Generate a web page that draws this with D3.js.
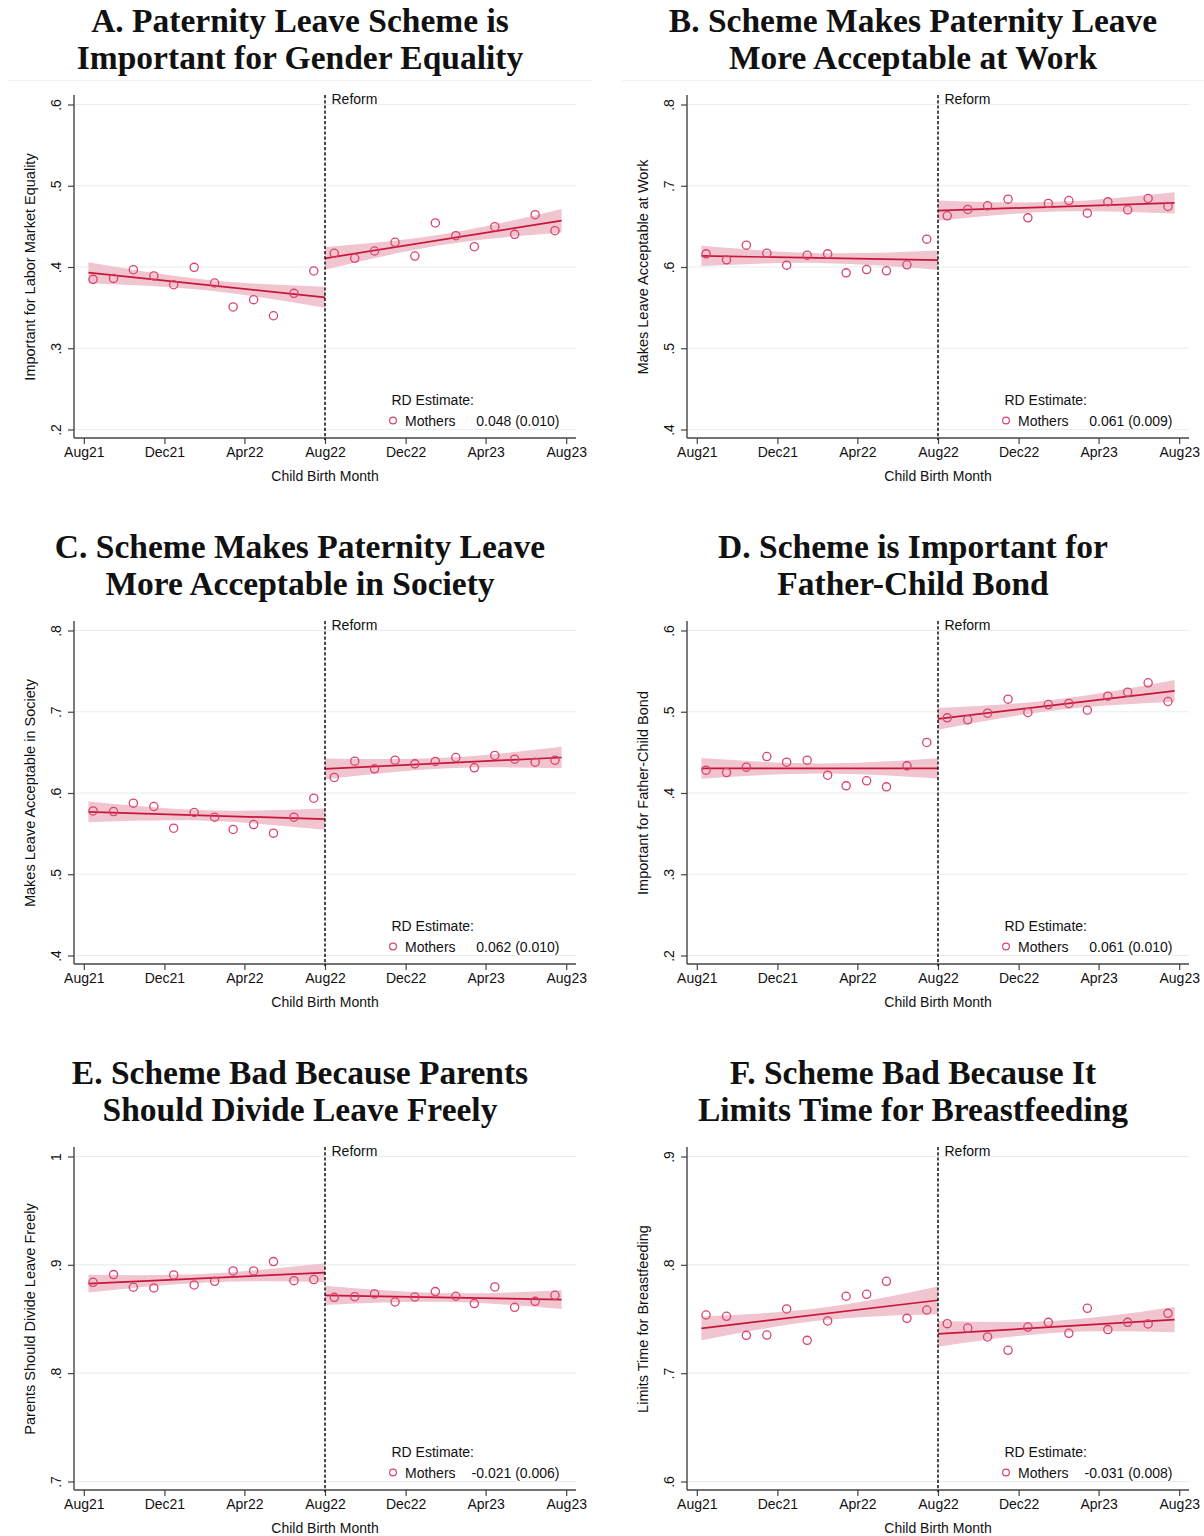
<!DOCTYPE html>
<html>
<head>
<meta charset="utf-8">
<script src="https://cdn.jsdelivr.net/npm/d3@7"></script>
<style>
  body { margin: 0; background: #fff; }
  svg { display: block; }
  .tick text { font-family: "Liberation Sans", Arial, sans-serif; font-size: 14px; fill: #111; }
</style>
</head>
<body>
<svg id="chart" width="1204" height="1536"></svg>
<script>
// Birth months (mid-month) of the monthly binned means
const pointMonths = [
  "2021-08-15","2021-09-15","2021-10-15","2021-11-15","2021-12-15","2022-01-15",
  "2022-02-15","2022-03-15","2022-04-15","2022-05-15","2022-06-15","2022-07-15",
  "2022-08-15","2022-09-15","2022-10-15","2022-11-15","2022-12-15","2023-01-15",
  "2023-02-15","2023-03-15","2023-04-15","2023-05-15","2023-06-15","2023-07-15"
];
const xTickDates = ["2021-08-01","2021-12-01","2022-04-01","2022-08-01","2022-12-01","2023-04-01","2023-08-01"];
const xTickLabels = ["Aug21","Dec21","Apr22","Aug22","Dec22","Apr23","Aug23"];
const xDomain = ["2021-08-01","2023-08-01"];
const reformDate = "2022-08-01";
// fitted-line support: start of pre period, reform, end of post period
const fitDates = ["2021-08-08","2022-08-01","2023-07-25"];

// Panel A
const titleA = ["A. Paternity Leave Scheme is", "Important for Gender Equality"];
const yTitleA = "Important for Labor Market Equality";
const yTicksA = [0.2, 0.3, 0.4, 0.5, 0.6];
const yTickLabelsA = [".2", ".3", ".4", ".5", ".6"];
const valuesA = [0.3848,0.3860,0.3967,0.3890,0.3782,0.3996,0.3803,0.3508,0.3598,0.3400,0.3676,0.3951,
                 0.4169,0.4107,0.4197,0.4304,0.4135,0.4542,0.4385,0.4250,0.4496,0.4402,0.4644,0.4447];
const fitA = [0.3930, 0.3627, 0.4570];          // pre start, pre end, post end
const rdA = 0.048;  const rdTextA = "0.048 (0.010)";
const ciA = [0.0129, 0.0065, 0.0129, 0.0140, 0.0065, 0.0144];

// Panel B
const titleB = ["B. Scheme Makes Paternity Leave", "More Acceptable at Work"];
const yTitleB = "Makes Leave Acceptable at Work";
const yTicksB = [0.4, 0.5, 0.6, 0.7, 0.8];
const yTickLabelsB = [".4", ".5", ".6", ".7", ".8"];
const valuesB = [0.6162,0.6088,0.6269,0.6170,0.6023,0.6146,0.6162,0.5928,0.5969,0.5953,0.6027,0.6343,
                 0.6630,0.6708,0.6753,0.6835,0.6605,0.6782,0.6818,0.6663,0.6802,0.6704,0.6843,0.6745];
const fitB = [0.6137, 0.6084, 0.6790];
const rdB = 0.061;  const rdTextB = "0.061 (0.009)";
const ciB = [0.0125, 0.0060, 0.0119, 0.0125, 0.0060, 0.0131];

// Panel C
const titleC = ["C. Scheme Makes Paternity Leave", "More Acceptable in Society"];
const yTitleC = "Makes Leave Acceptable in Society";
const yTicksC = [0.4, 0.5, 0.6, 0.7, 0.8];
const yTickLabelsC = [".4", ".5", ".6", ".7", ".8"];
const valuesC = [0.5780,0.5772,0.5875,0.5834,0.5567,0.5760,0.5703,0.5551,0.5612,0.5506,0.5703,0.5936,
                 0.6191,0.6392,0.6297,0.6404,0.6359,0.6388,0.6437,0.6310,0.6462,0.6416,0.6379,0.6404];
const fitC = [0.5768, 0.5678, 0.6437];
const rdC = 0.062;  const rdTextC = "0.062 (0.010)";
const ciC = [0.0128, 0.0065, 0.0131, 0.0128, 0.0065, 0.0133];

// Panel D
const titleD = ["D. Scheme is Important for", "Father-Child Bond"];
const yTitleD = "Important for Father-Child Bond";
const yTicksD = [0.2, 0.3, 0.4, 0.5, 0.6];
const yTickLabelsD = [".2", ".3", ".4", ".5", ".6"];
const valuesD = [0.4281,0.4252,0.4318,0.4449,0.4379,0.4404,0.4219,0.4088,0.4150,0.4076,0.4334,0.4622,
                 0.4925,0.4901,0.4982,0.5155,0.4991,0.5089,0.5102,0.5020,0.5192,0.5241,0.5356,0.5126];
const fitD = [0.4302, 0.4303, 0.5257];
const rdD = 0.061;  const rdTextD = "0.061 (0.010)";
const ciD = [0.0128, 0.0062, 0.0125, 0.0134, 0.0065, 0.0134];

// Panel E
const titleE = ["E. Scheme Bad Because Parents", "Should Divide Leave Freely"];
const yTitleE = "Parents Should Divide Leave Freely";
const yTicksE = [0.7, 0.8, 0.9, 1.0];
const yTickLabelsE = [".7", ".8", ".9", "1"];
const valuesE = [0.8839,0.8910,0.8793,0.8787,0.8907,0.8814,0.8848,0.8944,0.8944,0.9030,0.8854,0.8864,
                 0.8700,0.8706,0.8731,0.8657,0.8703,0.8753,0.8710,0.8642,0.8796,0.8608,0.8663,0.8719];
const fitE = [0.8827, 0.8928, 0.8679];
const rdE = -0.021; const rdTextE = "-0.021 (0.006)";
const ciE = [0.0082, 0.0040, 0.0086, 0.0088, 0.0040, 0.0086];

// Panel F
const titleF = ["F. Scheme Bad Because It", "Limits Time for Breastfeeding"];
const yTitleF = "Limits Time for Breastfeeding";
const yTicksF = [0.6, 0.7, 0.8, 0.9];
const yTickLabelsF = [".6", ".7", ".8", ".9"];
const valuesF = [0.7537,0.7525,0.7349,0.7352,0.7593,0.7303,0.7482,0.7710,0.7728,0.7848,0.7506,0.7583,
                 0.7457,0.7417,0.7334,0.7211,0.7426,0.7469,0.7368,0.7599,0.7402,0.7469,0.7454,0.7552];
const fitF = [0.7414, 0.7673, 0.7494];
const rdF = -0.031; const rdTextF = "-0.031 (0.008)";
const ciF = [0.0110, 0.0058, 0.0128, 0.0119, 0.0056, 0.0116];

const panels = [
  { title: titleA, yTitle: yTitleA, ticks: yTicksA, tickLabels: yTickLabelsA, values: valuesA, fit: fitA, rd: rdA, rdText: rdTextA, ci: ciA, col: 0, row: 0 },
  { title: titleB, yTitle: yTitleB, ticks: yTicksB, tickLabels: yTickLabelsB, values: valuesB, fit: fitB, rd: rdB, rdText: rdTextB, ci: ciB, col: 1, row: 0 },
  { title: titleC, yTitle: yTitleC, ticks: yTicksC, tickLabels: yTickLabelsC, values: valuesC, fit: fitC, rd: rdC, rdText: rdTextC, ci: ciC, col: 0, row: 1 },
  { title: titleD, yTitle: yTitleD, ticks: yTicksD, tickLabels: yTickLabelsD, values: valuesD, fit: fitD, rd: rdD, rdText: rdTextD, ci: ciD, col: 1, row: 1 },
  { title: titleE, yTitle: yTitleE, ticks: yTicksE, tickLabels: yTickLabelsE, values: valuesE, fit: fitE, rd: rdE, rdText: rdTextE, ci: ciE, col: 0, row: 2 },
  { title: titleF, yTitle: yTitleF, ticks: yTicksF, tickLabels: yTickLabelsF, values: valuesF, fit: fitF, rd: rdF, rdText: rdTextF, ci: ciF, col: 1, row: 2 }
];

// ---- drawing ----
const parse = d3.utcParse("%Y-%m-%d");
const colStep = 613, rowStep = 526;
const axisLeftX = 74, axisRightX = 576, axisTopY = 95, axisBottomY = 438;
const sansFont = '"Liberation Sans", Arial, sans-serif';
const lineColor = "#c8163a", markerColor = "#d8446c", bandColor = "#f0c5cf";
const gridColor = "#e7eeee";

const svg = d3.select("#chart");
svg.append("rect").attr("width", 1204).attr("height", 1536).attr("fill", "#fff");

const x = d3.scaleUtc().domain(xDomain.map(parse)).range([83.8, 566.2]);
const tFit = fitDates.map(parse);
const midDate = (a, b) => new Date((a.getTime() + b.getTime()) / 2);

panels.forEach(p => {
  const g = svg.append("g").attr("transform", `translate(${p.col * colStep},${p.row * rowStep})`);
  const y = d3.scaleLinear().domain([p.ticks[0], p.ticks[p.ticks.length - 1]]).range([429.5, 104.5]);

  // title
  const title = g.append("text")
    .attr("x", 300).attr("text-anchor", "middle")
    .attr("font-family", '"Liberation Serif", "Times New Roman", serif')
    .attr("font-weight", "bold").attr("font-size", 33.5).attr("fill", "#111");
  p.title.forEach((line, i) => title.append("tspan").attr("x", 300).attr("y", 31.5 + i * 37.5).text(line));
  if (p.row === 0) {
    g.append("line").attr("x1", 9).attr("x2", 591).attr("y1", 80.5).attr("y2", 80.5)
      .attr("stroke", "#eef2f2").attr("stroke-width", 1);
  }

  // grid
  g.append("g").selectAll("line").data(p.ticks).join("line")
    .attr("x1", axisLeftX).attr("x2", axisRightX)
    .attr("y1", d => y(d)).attr("y2", d => y(d))
    .attr("stroke", gridColor).attr("stroke-width", 1.2);

  // fitted lines and confidence bands on each side of the reform
  const preStart = p.fit[0], preEnd = p.fit[1];
  const postStart = preEnd + p.rd, postEnd = p.fit[2];
  const sides = [
    { t: [tFit[0], midDate(tFit[0], tFit[1]), tFit[1]], v: [preStart, (preStart + preEnd) / 2, preEnd], h: p.ci.slice(0, 3) },
    { t: [tFit[1], midDate(tFit[1], tFit[2]), tFit[2]], v: [postStart, (postStart + postEnd) / 2, postEnd], h: p.ci.slice(3, 6) }
  ];
  sides.forEach(s => {
    const pts = s.t.map((t, i) => ({ t, v: s.v[i], lo: s.v[i] - s.h[i], hi: s.v[i] + s.h[i] }));
    g.append("path").datum(pts)
      .attr("d", d3.area().x(d => x(d.t)).y0(d => y(d.lo)).y1(d => y(d.hi)).curve(d3.curveNatural))
      .attr("fill", bandColor).attr("stroke", "none");
  });
  sides.forEach(s => {
    g.append("line")
      .attr("x1", x(s.t[0])).attr("x2", x(s.t[2]))
      .attr("y1", y(s.v[0])).attr("y2", y(s.v[2]))
      .attr("stroke", lineColor).attr("stroke-width", 1.7);
  });

  // binned means
  g.append("g").selectAll("circle").data(p.values).join("circle")
    .attr("cx", (d, i) => x(parse(pointMonths[i])))
    .attr("cy", d => y(d))
    .attr("r", 4.1)
    .attr("fill", "none").attr("stroke", markerColor).attr("stroke-width", 1.3);

  // axes
  const yAxis = g.append("g").attr("transform", `translate(${axisLeftX},0)`)
    .call(d3.axisLeft(y).tickValues(p.ticks).tickSize(6).tickFormat((d, i) => p.tickLabels[i]));
  yAxis.select(".domain").remove();
  yAxis.selectAll(".tick line").attr("stroke", "#444").attr("stroke-width", 1.2);
  yAxis.selectAll(".tick text")
    .attr("transform", "rotate(-90)").attr("x", 0).attr("y", -13).attr("dy", 0)
    .attr("text-anchor", "middle");

  const xAxis = g.append("g").attr("transform", `translate(0,${axisBottomY})`)
    .call(d3.axisBottom(x).tickValues(xTickDates.map(parse)).tickSize(6).tickPadding(3)
      .tickFormat((d, i) => xTickLabels[i]));
  xAxis.select(".domain").remove();
  xAxis.selectAll(".tick line").attr("stroke", "#444").attr("stroke-width", 1.2);

  g.append("line").attr("x1", axisLeftX).attr("x2", axisLeftX).attr("y1", axisTopY).attr("y2", axisBottomY)
    .attr("stroke", "#444").attr("stroke-width", 1.4);
  g.append("line").attr("x1", axisLeftX).attr("x2", axisRightX).attr("y1", axisBottomY).attr("y2", axisBottomY)
    .attr("stroke", "#444").attr("stroke-width", 1.4);

  // reform marker
  const xr = x(parse(reformDate));
  g.append("line").attr("x1", xr).attr("x2", xr).attr("y1", axisTopY).attr("y2", axisBottomY + 2)
    .attr("stroke", "#111").attr("stroke-width", 1.5).attr("stroke-dasharray", "3.2,2");
  g.append("text").attr("x", xr + 6.5).attr("y", 103.5)
    .attr("font-family", sansFont).attr("font-size", 14).attr("fill", "#111").text("Reform");

  // axis titles
  g.append("text").attr("transform", "translate(35,267) rotate(-90)").attr("text-anchor", "middle")
    .attr("font-family", sansFont).attr("font-size", 14.5).attr("fill", "#111").text(p.yTitle);
  g.append("text").attr("x", 325).attr("y", 480.5).attr("text-anchor", "middle")
    .attr("font-family", sansFont).attr("font-size", 14).attr("fill", "#111").text("Child Birth Month");

  // RD estimate legend
  g.append("text").attr("x", 391.5).attr("y", 405)
    .attr("font-family", sansFont).attr("font-size", 14).attr("fill", "#111").text("RD Estimate:");
  g.append("circle").attr("cx", 393).attr("cy", 420.5).attr("r", 3.4)
    .attr("fill", "none").attr("stroke", markerColor).attr("stroke-width", 1.2);
  g.append("text").attr("x", 405).attr("y", 425.5)
    .attr("font-family", sansFont).attr("font-size", 14).attr("fill", "#111").text("Mothers");
  g.append("text").attr("x", 559.5).attr("y", 425.5).attr("text-anchor", "end")
    .attr("font-family", sansFont).attr("font-size", 14).attr("fill", "#111").text(p.rdText);
});
</script>
</body>
</html>
